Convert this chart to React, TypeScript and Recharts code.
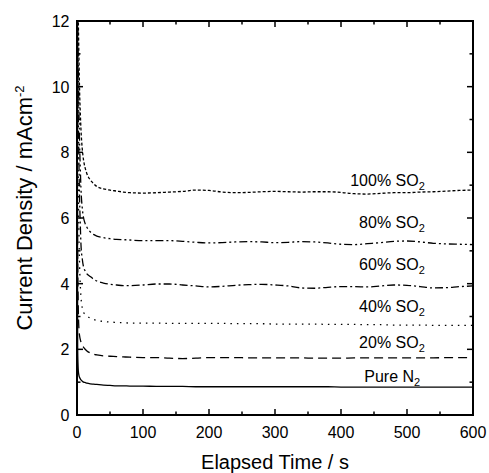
import { LineChart, Line, XAxis, YAxis, ReferenceDot } from "recharts";

const time = [0, 1, 2, 3, 4, 5, 6, 8, 10, 12, 15, 20, 25, 30, 40, 50, 60, 70, 80, 100, 120, 140, 160, 180, 200, 220, 240, 260, 280, 300, 320, 340, 360, 380, 400, 420, 440, 460, 480, 500, 520, 540, 560, 580, 600];

const so2_100 = [15, 13.2, 12.0, 10.8, 9.8, 9.2, 8.7, 8.1, 7.75, 7.55, 7.35, 7.16, 7.05, 6.96, 6.89, 6.85, 6.82, 6.79, 6.77, 6.76, 6.77, 6.79, 6.81, 6.85, 6.84, 6.79, 6.77, 6.78, 6.8, 6.81, 6.8, 6.79, 6.8, 6.8, 6.78, 6.74, 6.73, 6.75, 6.77, 6.77, 6.79, 6.8, 6.82, 6.84, 6.85];
const so2_80 = [15, 12.5, 10.5, 9.2, 8.2, 7.5, 6.9, 6.3, 6.0, 5.85, 5.72, 5.58, 5.5, 5.45, 5.4, 5.37, 5.35, 5.34, 5.33, 5.31, 5.31, 5.31, 5.29, 5.26, 5.24, 5.25, 5.27, 5.28, 5.27, 5.25, 5.26, 5.28, 5.27, 5.24, 5.2, 5.19, 5.22, 5.25, 5.29, 5.3, 5.27, 5.23, 5.21, 5.2, 5.19];
const so2_60 = [15, 11.5, 9.0, 7.6, 6.5, 5.8, 5.2, 4.75, 4.5, 4.4, 4.3, 4.22, 4.14, 4.08, 4.02, 3.98, 3.96, 3.94, 3.94, 3.96, 3.99, 3.99, 3.96, 3.93, 3.9, 3.92, 3.95, 3.97, 3.98, 3.96, 3.93, 3.87, 3.86, 3.89, 3.91, 3.91, 3.9, 3.93, 3.96, 3.95, 3.91, 3.87, 3.88, 3.91, 3.93];
const so2_40 = [14, 10, 7.0, 5.5, 4.5, 3.95, 3.6, 3.25, 3.12, 3.07, 3.02, 2.95, 2.91, 2.88, 2.85, 2.83, 2.82, 2.81, 2.8, 2.8, 2.8, 2.79, 2.79, 2.79, 2.79, 2.79, 2.78, 2.78, 2.78, 2.77, 2.77, 2.77, 2.77, 2.76, 2.76, 2.76, 2.75, 2.75, 2.74, 2.74, 2.74, 2.73, 2.73, 2.73, 2.73];
const so2_20 = [14, 5.0, 3.2, 2.6, 2.4, 2.3, 2.22, 2.12, 2.06, 2.01, 1.95, 1.89, 1.85, 1.83, 1.8, 1.79, 1.78, 1.77, 1.76, 1.75, 1.75, 1.73, 1.72, 1.73, 1.75, 1.75, 1.75, 1.74, 1.74, 1.74, 1.74, 1.74, 1.73, 1.73, 1.73, 1.74, 1.74, 1.74, 1.74, 1.74, 1.74, 1.74, 1.75, 1.75, 1.75];
const pureN2 = [14, 2.0, 1.35, 1.2, 1.14, 1.1, 1.07, 1.03, 1.0, 0.99, 0.97, 0.95, 0.94, 0.93, 0.91, 0.9, 0.89, 0.89, 0.88, 0.88, 0.87, 0.87, 0.87, 0.86, 0.86, 0.86, 0.86, 0.86, 0.86, 0.86, 0.86, 0.86, 0.86, 0.86, 0.85, 0.85, 0.85, 0.85, 0.85, 0.85, 0.85, 0.85, 0.85, 0.85, 0.85];

const xTicks = [0, 100, 200, 300, 400, 500, 600];
const xMinor = [50, 150, 250, 350, 450, 550];
const yTicks = [0, 2, 4, 6, 8, 10, 12];
const yMinor = [1, 3, 5, 7, 9, 11];

const series = [
  { key: "n2", values: pureN2, dash: undefined },
  { key: "s20", values: so2_20, dash: "9 5" },
  { key: "s40", values: so2_40, dash: "1.5 5" },
  { key: "s60", values: so2_60, dash: "8 3 2 3" },
  { key: "s80", values: so2_80, dash: "8 3 2 3 2 3" },
  { key: "s100", values: so2_100, dash: "3 2" },
];

// series annotations (text + where they sit, in data units)
const labels = [
  { text: "Pure N", t: 520, v: 1.0 },
  { text: "20% SO", t: 527, v: 2.04 },
  { text: "40% SO", t: 527, v: 3.14 },
  { text: "60% SO", t: 527, v: 4.42 },
  { text: "80% SO", t: 527, v: 5.7 },
  { text: "100% SO", t: 527, v: 6.98 },
];

const data = time.map((t, i) => {
  const row: any = { t };
  series.forEach((s) => (row[s.key] = s.values[i]));
  return row;
});

// chart box
const W = 489;
const H = 473;
const M = { top: 21, right: 16, left: 0, bottom: 0 };
const Y_W = 77;
const X_H = 58;
const P = { l: M.left + Y_W, t: M.top, r: W - M.right, b: H - M.bottom - X_H };
const sx = (v: number) => P.l + (v / 600) * (P.r - P.l);
const sy = (v: number) => P.b - (v / 12) * (P.b - P.t);

const FONT = "'Liberation Sans', Arial, sans-serif";
const AXIS = { stroke: "#000", strokeWidth: 2 };

const BottomTick = ({ x, y, payload }: any) => (
  <text x={x} y={y + 23} textAnchor="middle" fontSize={16} fontFamily={FONT} fill="#000">
    {payload.value}
  </text>
);

const LeftTick = ({ x, y, payload }: any) => (
  <text x={x - 7.5} y={y + 6} textAnchor="end" fontSize={16} fontFamily={FONT} fill="#000">
    {payload.value}
  </text>
);

const SeriesLabel = ({ viewBox, text }: any) => (
  <text x={viewBox.x} y={viewBox.y} textAnchor="end" fontSize={16} fontFamily={FONT} fill="#000">
    {text}
    <tspan fontSize={11} dy={4}>2</tspan>
  </text>
);

// box around the plot with inward ticks on all four sides
const Frame = () => {
  const tk = { stroke: "#000", strokeWidth: 1.5 };
  return (
    <g>
      <rect x={P.l} y={P.t} width={P.r - P.l} height={P.b - P.t} fill="none" stroke="#000" strokeWidth={2} />
      {[...xTicks.map((v) => [v, 6]), ...xMinor.map((v) => [v, 3.5])].map(([v, len]) => (
        <g key={"x" + v}>
          <line x1={sx(v)} x2={sx(v)} y1={P.b} y2={P.b - len} {...tk} />
          <line x1={sx(v)} x2={sx(v)} y1={P.t} y2={P.t + len} {...tk} />
        </g>
      ))}
      {[...yTicks.map((v) => [v, 6]), ...yMinor.map((v) => [v, 3.5])].map(([v, len]) => (
        <g key={"y" + v}>
          <line x1={P.l} x2={P.l + len} y1={sy(v)} y2={sy(v)} {...tk} />
          <line x1={P.r} x2={P.r - len} y1={sy(v)} y2={sy(v)} {...tk} />
        </g>
      ))}
    </g>
  );
};

export default function App() {
  return (
    <div style={{ position: "absolute", left: 0, top: 0, width: W, height: H, background: "#fff" }}>
      <LineChart width={W} height={H} data={data} margin={M}>
        <XAxis
          xAxisId="b"
          dataKey="t"
          type="number"
          domain={[0, 600]}
          ticks={xTicks}
          interval={0}
          height={X_H}
          tickSize={0}
          tickMargin={0}
          tickLine={false}
          axisLine={AXIS}
          tick={<BottomTick />}
        />
        <YAxis
          yAxisId="l"
          type="number"
          domain={[0, 12]}
          allowDataOverflow
          ticks={yTicks}
          interval={0}
          width={Y_W}
          tickSize={0}
          tickMargin={0}
          tickLine={false}
          axisLine={AXIS}
          tick={<LeftTick />}
        />
        {series.map((s) => (
          <Line
            key={s.key}
            xAxisId="b"
            yAxisId="l"
            dataKey={s.key}
            type="monotone"
            stroke="#000"
            strokeWidth={1.3}
            strokeDasharray={s.dash}
            dot={false}
            activeDot={false}
            isAnimationActive={false}
          />
        ))}
        {labels.map((l) => (
          <ReferenceDot
            key={l.text + l.v}
            xAxisId="b"
            yAxisId="l"
            x={l.t}
            y={l.v}
            r={0}
            stroke="none"
            fill="none"
            label={<SeriesLabel text={l.text} />}
          />
        ))}
      </LineChart>
      <svg width={W} height={H} style={{ position: "absolute", left: 0, top: 0, pointerEvents: "none" }}>
        <Frame />
        <text
          x={32}
          y={208}
          transform="rotate(-90, 32, 208)"
          textAnchor="middle"
          fontSize={22}
          fontFamily={FONT}
          fill="#000"
        >
          Current Density / mAcm
          <tspan fontSize={13} dy={-8}>-2</tspan>
        </text>
        <text x={275} y={469} textAnchor="middle" fontSize={20} fontFamily={FONT} fill="#000">
          Elapsed Time / s
        </text>
      </svg>
    </div>
  );
}
